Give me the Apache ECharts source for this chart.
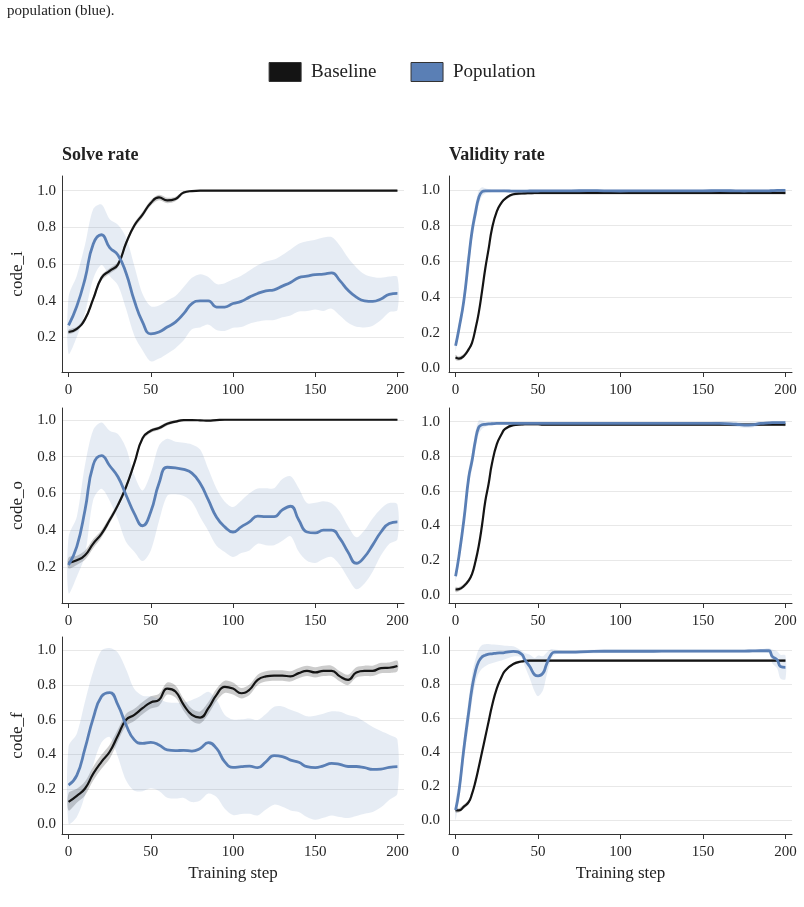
<!DOCTYPE html>
<html>
<head>
<meta charset="utf-8">
<script src="https://cdn.jsdelivr.net/npm/echarts@6/dist/echarts.min.js"></script>
<style>
html, body { margin: 0; padding: 0; background: #fff; }
#main { width: 804px; height: 907px; }
</style>
</head>
<body>
<div id="main"></div>
<script>
// training steps (solve-rate panels sampled every 5, validity panels finer near the jumps)
var STEPS = [0,5,10,15,20,25,30,35,40,45,50,55,60,65,70,75,80,85,90,95,100,105,110,115,120,125,130,135,140,145,150,155,160,165,170,175,180,185,190,195,200];
var VSTEPS = [0,2,5,8,10,12,14,16,18,20,22,25,28,30,35,40,42,45,48,50,53,55,58,60,65,70,80,90,100,110,120,130,140,150,160,170,175,180,185,190,192,195,197,200];
var X_TICKS = [0, 50, 100, 150, 200];
var Y_TICKS_A = [0.2, 0.4, 0.6, 0.8, 1.0];
var Y_TICKS_B = [0.0, 0.2, 0.4, 0.6, 0.8, 1.0];
var ROWS = ['code_i', 'code_o', 'code_f'];
var COLS = ['Solve rate', 'Validity rate'];

// ---- solve rate, code_i
var solveBaseI = [0.23,0.247,0.30,0.41,0.525,0.563,0.597,0.715,0.81,0.87,0.933,0.963,0.947,0.955,0.99,0.998,1,1,1,1,1,1,1,1,1,1,1,1,1,1,1,1,1,1,1,1,1,1,1,1,1];
var solveBaseIErr = [0.012,0.012,0.012,0.015,0.015,0.015,0.015,0.015,0.015,0.015,0.015,0.015,0.015,0.012,0.008,0.005,0.004,0.004,0.004,0.004,0.004,0.004,0.004,0.004,0.004,0.004,0.004,0.004,0.004,0.004,0.004,0.004,0.004,0.004,0.004,0.004,0.004,0.004,0.004,0.004,0.004];
var solvePopI = [0.266,0.37,0.52,0.71,0.76,0.69,0.65,0.55,0.40,0.284,0.22,0.23,0.257,0.284,0.33,0.385,0.40,0.40,0.366,0.366,0.385,0.397,0.42,0.44,0.454,0.46,0.48,0.50,0.526,0.534,0.543,0.545,0.552,0.51,0.457,0.42,0.40,0.397,0.41,0.435,0.44];
var solvePopIErr = [0.155,0.167,0.185,0.19,0.165,0.155,0.165,0.195,0.19,0.153,0.15,0.145,0.145,0.142,0.145,0.14,0.145,0.13,0.125,0.13,0.132,0.14,0.145,0.153,0.16,0.165,0.17,0.18,0.185,0.19,0.19,0.2,0.195,0.19,0.177,0.162,0.145,0.133,0.115,0.097,0.09];

// ---- solve rate, code_o
var solveBaseO = [0.222,0.236,0.264,0.327,0.38,0.455,0.536,0.636,0.764,0.90,0.94,0.955,0.978,0.99,0.998,0.998,0.997,0.995,0.998,1,1,1,1,1,1,1,1,1,1,1,1,1,1,1,1,1,1,1,1,1,1];
var solveBaseOErr = [0.03,0.025,0.025,0.025,0.02,0.018,0.015,0.015,0.015,0.012,0.01,0.01,0.01,0.008,0.006,0.005,0.005,0.005,0.005,0.004,0.004,0.004,0.004,0.004,0.004,0.004,0.004,0.004,0.004,0.004,0.004,0.004,0.004,0.004,0.004,0.004,0.004,0.004,0.004,0.004,0.004];
var solvePopO = [0.21,0.31,0.51,0.755,0.805,0.75,0.69,0.59,0.49,0.424,0.50,0.655,0.742,0.738,0.73,0.71,0.655,0.564,0.47,0.418,0.39,0.418,0.445,0.476,0.473,0.473,0.51,0.53,0.455,0.39,0.385,0.40,0.40,0.355,0.28,0.22,0.255,0.32,0.39,0.436,0.445];
var solvePopOErr = [0.153,0.163,0.245,0.19,0.18,0.19,0.232,0.255,0.208,0.192,0.21,0.205,0.155,0.143,0.145,0.156,0.183,0.168,0.155,0.137,0.136,0.142,0.155,0.15,0.155,0.155,0.168,0.163,0.173,0.157,0.164,0.157,0.146,0.145,0.141,0.141,0.145,0.145,0.127,0.111,0.095];

// ---- solve rate, code_f
var solveBaseF = [0.127,0.162,0.204,0.29,0.358,0.416,0.51,0.60,0.628,0.667,0.70,0.715,0.78,0.763,0.686,0.628,0.613,0.667,0.744,0.79,0.78,0.753,0.773,0.83,0.85,0.855,0.855,0.85,0.869,0.882,0.873,0.882,0.882,0.85,0.83,0.873,0.882,0.882,0.898,0.90,0.91];
var solveBaseFErr = [0.05,0.04,0.04,0.04,0.04,0.04,0.035,0.035,0.035,0.035,0.035,0.035,0.035,0.035,0.035,0.035,0.035,0.035,0.035,0.035,0.035,0.03,0.03,0.03,0.03,0.03,0.03,0.03,0.03,0.03,0.03,0.03,0.03,0.03,0.03,0.03,0.03,0.03,0.03,0.03,0.03];
var solvePopF = [0.224,0.28,0.435,0.61,0.734,0.757,0.686,0.57,0.484,0.464,0.47,0.455,0.426,0.422,0.424,0.42,0.435,0.468,0.435,0.358,0.326,0.33,0.333,0.324,0.358,0.393,0.388,0.368,0.355,0.33,0.324,0.335,0.349,0.343,0.331,0.331,0.324,0.314,0.316,0.326,0.33];
var solvePopFErr = [0.222,0.24,0.27,0.27,0.265,0.256,0.30,0.32,0.293,0.275,0.265,0.265,0.275,0.276,0.274,0.294,0.30,0.293,0.28,0.27,0.275,0.273,0.275,0.275,0.275,0.282,0.289,0.29,0.286,0.29,0.30,0.30,0.30,0.303,0.297,0.285,0.265,0.245,0.22,0.188,0.155];

// ---- validity rate, code_i
var validBaseI = [0.062,0.055,0.07,0.108,0.145,0.22,0.31,0.43,0.56,0.668,0.78,0.88,0.93,0.95,0.976,0.98,0.981,0.982,0.983,0.983,0.983,0.983,0.983,0.983,0.983,0.983,0.983,0.983,0.983,0.983,0.983,0.983,0.983,0.983,0.983,0.983,0.983,0.983,0.983,0.983,0.983,0.983,0.983,0.983];
var validBaseIErr = [0.015,0.012,0.012,0.012,0.012,0.012,0.012,0.012,0.012,0.012,0.008,0.008,0.008,0.008,0.008,0.008,0.008,0.008,0.008,0.008,0.008,0.008,0.008,0.008,0.008,0.008,0.008,0.008,0.008,0.008,0.008,0.008,0.008,0.008,0.008,0.008,0.008,0.008,0.008,0.008,0.008,0.008,0.008,0.008];
var validPopI = [0.127,0.22,0.38,0.62,0.77,0.87,0.955,0.99,0.995,0.995,0.995,0.995,0.995,0.995,0.993,0.993,0.993,0.994,0.994,0.994,0.995,0.995,0.995,0.995,0.995,0.995,0.996,0.995,0.994,0.995,0.995,0.995,0.995,0.995,0.996,0.995,0.994,0.995,0.995,0.995,0.996,0.997,0.997,0.997];
var validPopIErr = [0.03,0.03,0.04,0.05,0.05,0.05,0.04,0.025,0.015,0.01,0.008,0.008,0.008,0.008,0.008,0.008,0.008,0.008,0.008,0.008,0.008,0.008,0.008,0.008,0.008,0.008,0.008,0.008,0.008,0.008,0.008,0.008,0.008,0.008,0.008,0.008,0.008,0.008,0.008,0.008,0.008,0.008,0.008,0.008];

// ---- validity rate, code_o
var validBaseO = [0.03,0.032,0.05,0.083,0.12,0.19,0.28,0.40,0.54,0.64,0.755,0.87,0.93,0.958,0.98,0.984,0.985,0.985,0.985,0.985,0.983,0.983,0.983,0.983,0.983,0.983,0.983,0.983,0.983,0.983,0.983,0.983,0.983,0.983,0.983,0.983,0.983,0.983,0.983,0.983,0.983,0.983,0.983,0.983];
var validBaseOErr = [0.015,0.012,0.012,0.012,0.012,0.012,0.012,0.012,0.012,0.012,0.008,0.008,0.008,0.008,0.008,0.008,0.008,0.008,0.008,0.008,0.008,0.008,0.008,0.008,0.008,0.008,0.008,0.008,0.008,0.008,0.008,0.008,0.008,0.008,0.008,0.008,0.008,0.008,0.008,0.008,0.008,0.008,0.008,0.008];
var validPopO = [0.106,0.22,0.43,0.68,0.775,0.89,0.967,0.982,0.985,0.987,0.988,0.99,0.99,0.99,0.99,0.99,0.99,0.99,0.99,0.99,0.99,0.99,0.99,0.99,0.99,0.99,0.99,0.99,0.99,0.99,0.99,0.99,0.99,0.99,0.99,0.985,0.98,0.982,0.99,0.993,0.994,0.995,0.995,0.995];
var validPopOErr = [0.03,0.03,0.04,0.05,0.05,0.05,0.04,0.025,0.015,0.01,0.008,0.008,0.008,0.008,0.008,0.008,0.008,0.008,0.008,0.008,0.008,0.008,0.008,0.008,0.008,0.008,0.008,0.008,0.008,0.008,0.008,0.008,0.008,0.008,0.01,0.015,0.015,0.015,0.01,0.008,0.008,0.008,0.008,0.008];

// ---- validity rate, code_f
var validBaseF = [0.06,0.058,0.08,0.108,0.157,0.226,0.31,0.40,0.49,0.58,0.67,0.777,0.846,0.88,0.92,0.935,0.938,0.94,0.94,0.94,0.94,0.94,0.94,0.94,0.94,0.94,0.94,0.94,0.94,0.94,0.94,0.94,0.94,0.94,0.94,0.94,0.94,0.94,0.94,0.94,0.94,0.94,0.94,0.94];
var validBaseFErr = [0.015,0.012,0.012,0.012,0.012,0.012,0.012,0.012,0.012,0.012,0.008,0.008,0.008,0.008,0.008,0.008,0.008,0.008,0.008,0.008,0.008,0.008,0.008,0.008,0.008,0.008,0.008,0.008,0.008,0.008,0.008,0.008,0.008,0.008,0.008,0.008,0.008,0.008,0.008,0.008,0.008,0.008,0.008,0.008];
var validPopF = [0.06,0.167,0.42,0.64,0.78,0.876,0.935,0.962,0.972,0.978,0.98,0.984,0.986,0.988,0.994,0.978,0.945,0.905,0.856,0.85,0.866,0.915,0.978,0.99,0.99,0.99,0.993,0.995,0.995,0.995,0.995,0.996,0.996,0.996,0.996,0.996,0.996,0.997,0.998,0.998,0.965,0.945,0.905,0.90];
var validPopFErr = [0.06,0.05,0.07,0.08,0.08,0.07,0.07,0.07,0.065,0.06,0.055,0.05,0.045,0.04,0.03,0.02,0.04,0.07,0.10,0.12,0.10,0.07,0.03,0.015,0.01,0.01,0.01,0.01,0.01,0.01,0.01,0.01,0.01,0.01,0.01,0.01,0.01,0.01,0.01,0.015,0.04,0.05,0.07,0.07];

var BLUE = '#5a7fb5';
var BLACK = '#141414';
var FONT = 'Liberation Serif';

var myChart = echarts.init(document.getElementById('main'), null, { renderer: 'canvas' });

var panels = [
    { steps: STEPS,  base: solveBaseI, baseErr: solveBaseIErr, pop: solvePopI, popErr: solvePopIErr, yMin: 0.012, yMax: 1.08,  yTicks: Y_TICKS_A },
    { steps: VSTEPS, base: validBaseI, baseErr: validBaseIErr, pop: validPopI, popErr: validPopIErr, yMin: -0.02, yMax: 1.078, yTicks: Y_TICKS_B },
    { steps: STEPS,  base: solveBaseO, baseErr: solveBaseOErr, pop: solvePopO, popErr: solvePopOErr, yMin: 0.004, yMax: 1.064, yTicks: Y_TICKS_A },
    { steps: VSTEPS, base: validBaseO, baseErr: validBaseOErr, pop: validPopO, popErr: validPopOErr, yMin: -0.048, yMax: 1.079, yTicks: Y_TICKS_B },
    { steps: STEPS,  base: solveBaseF, baseErr: solveBaseFErr, pop: solvePopF, popErr: solvePopFErr, yMin: -0.058, yMax: 1.077, yTicks: Y_TICKS_B },
    { steps: VSTEPS, base: validBaseF, baseErr: validBaseFErr, pop: validPopF, popErr: validPopFErr, yMin: -0.081, yMax: 1.079, yTicks: Y_TICKS_B }
];

var gridBoxes = [
    { left: 62,  top: 176, width: 342, height: 196 },
    { left: 449, top: 176, width: 343, height: 196 },
    { left: 62,  top: 408, width: 342, height: 195 },
    { left: 449, top: 408, width: 343, height: 195 },
    { left: 62,  top: 637, width: 342, height: 197 },
    { left: 449, top: 637, width: 343, height: 197 }
];

function pairs(steps, vals) {
    return steps.map(function (s, k) { return [s, vals[k]]; });
}

// confidence band drawn as one polygon through the axis scales
function band(i, steps, mean, err, color, z) {
    return {
        type: 'custom',
        xAxisIndex: i,
        yAxisIndex: i,
        z: z,
        silent: true,
        clip: true,
        data: [[steps[0], mean[0]]],
        renderItem: function (params, api) {
            var pts = [];
            for (var k = 0; k < steps.length; k++) pts.push(api.coord([steps[k], mean[k] + err[k]]));
            for (var k2 = steps.length - 1; k2 >= 0; k2--) pts.push(api.coord([steps[k2], mean[k2] - err[k2]]));
            return {
                type: 'polygon',
                shape: { points: pts, smooth: 0.3 },
                style: { fill: color }
            };
        }
    };
}

var grid = [], xAxis = [], yAxis = [], series = [];

panels.forEach(function (p, i) {
    var row = Math.floor(i / 2), col = i % 2;
    grid.push(gridBoxes[i]);
    xAxis.push({
        type: 'value',
        gridIndex: i,
        min: -4,
        max: 204,
        name: row === 2 ? 'Training step' : '',
        nameLocation: 'middle',
        nameGap: 31,
        nameTextStyle: { fontFamily: FONT, fontSize: 17, color: '#222' },
        axisLine: { onZero: false, lineStyle: { color: '#333', width: 1 } },
        axisTick: { show: true, length: 5, customValues: X_TICKS, lineStyle: { color: '#333' } },
        axisLabel: { customValues: X_TICKS, margin: 11, fontFamily: FONT, fontSize: 15, color: '#262626' },
        splitLine: { show: false }
    });
    yAxis.push({
        type: 'value',
        gridIndex: i,
        min: p.yMin,
        max: p.yMax,
        name: col === 0 ? ROWS[row] : '',
        nameLocation: 'middle',
        nameGap: 36,
        nameRotate: 90,
        nameTextStyle: { fontFamily: FONT, fontSize: 17, color: '#222' },
        axisLine: { show: true, onZero: false, lineStyle: { color: '#333', width: 1 } },
        axisTick: { show: false, customValues: p.yTicks },
        axisLabel: {
            customValues: p.yTicks,
            margin: col === 0 ? 6 : 9,
            fontFamily: FONT, fontSize: 15, color: '#262626',
            formatter: function (v) { return v.toFixed(1); }
        },
        splitLine: { show: true, lineStyle: { color: '#e8e8e8', width: 1 } }
    });

    series.push(band(i, p.steps, p.base, p.baseErr, 'rgba(0,0,0,0.2)', 2));
    series.push(band(i, p.steps, p.pop, p.popErr, 'rgba(90,127,181,0.15)', 3));
    series.push({
        name: 'Baseline',
        type: 'line',
        xAxisIndex: i, yAxisIndex: i,
        data: pairs(p.steps, p.base),
        showSymbol: false,
        smooth: 0.5,
        z: 4,
        lineStyle: { color: BLACK, width: 2.2 },
        itemStyle: { color: BLACK }
    });
    series.push({
        name: 'Population',
        type: 'line',
        xAxisIndex: i, yAxisIndex: i,
        data: pairs(p.steps, p.pop),
        showSymbol: false,
        smooth: 0.5,
        z: 5,
        lineStyle: { color: BLUE, width: 2.8 },
        itemStyle: { color: BLUE }
    });
});

var option = {
    animation: false,
    backgroundColor: '#fff',
    title: [
        { text: 'population (blue).', left: 7, top: 4, padding: 0,
          textStyle: { fontFamily: FONT, fontSize: 15, fontWeight: 'normal', color: '#222' } },
        { text: COLS[0], left: 62, top: 146, padding: 0,
          textStyle: { fontFamily: FONT, fontSize: 18, fontWeight: 'bold', color: '#222' } },
        { text: COLS[1], left: 449, top: 146, padding: 0,
          textStyle: { fontFamily: FONT, fontSize: 18, fontWeight: 'bold', color: '#222' } }
    ],
    legend: {
        top: 57,
        left: 'center',
        icon: 'rect',
        itemWidth: 32,
        itemHeight: 19,
        itemGap: 34,
        textStyle: { fontFamily: FONT, fontSize: 19, color: '#222', padding: [0, 0, 0, 5] },
        data: [
            { name: 'Baseline', itemStyle: { color: BLACK, borderColor: '#333', borderWidth: 1 } },
            { name: 'Population', itemStyle: { color: BLUE, borderColor: '#333', borderWidth: 1 } }
        ]
    },
    grid: grid,
    xAxis: xAxis,
    yAxis: yAxis,
    series: series
};

myChart.setOption(option);
</script>
</body>
</html>
